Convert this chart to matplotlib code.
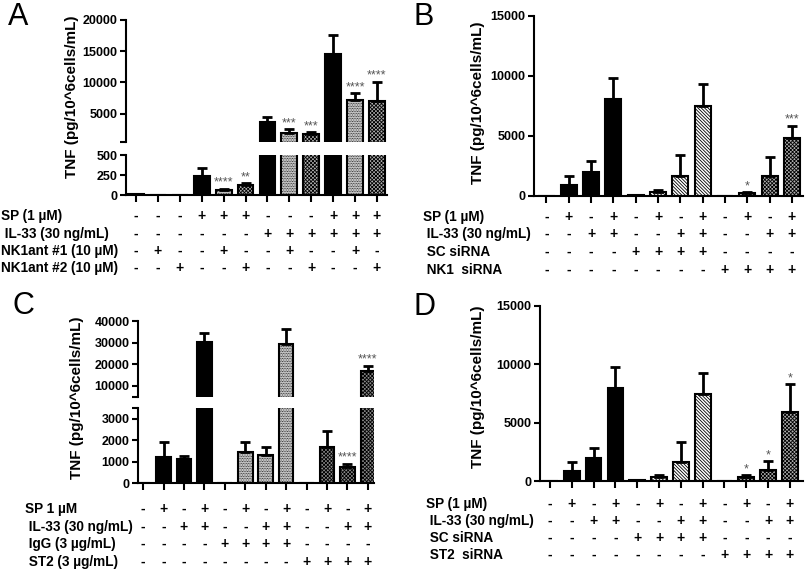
import numpy as np
import matplotlib.pyplot as plt
from matplotlib.transforms import blended_transform_factory

plt.rcParams['font.family'] = ['Liberation Sans', 'DejaVu Sans']
plt.rcParams['font.weight'] = 'bold'
plt.rcParams['hatch.linewidth'] = 0.6

# ---------- data ----------
# panel A
A_vals = [10, 0, 0, 240, 60, 125, 3600, 1900, 1750, 14500, 7200, 7000]
A_sem = [5, 0, 0, 100, 20, 25, 900, 550, 250, 3100, 1100, 3100]
A_stars = ['', '', '', '', '****', '**', '', '***', '***', '', '****', '****']
A_rows = ['SP (1 µM)', ' IL-33 (30 ng/mL)', 'NK1ant #1 (10 µM)', 'NK1ant #2 (10 µM)']
A_signs = ['---+++---+++',
           '------++++++',
           '-+--+--+--+-',
           '--+--+--+--+']

# panel B
B_vals = [0, 920, 2030, 8060, 60, 360, 1670, 7500, 0, 220, 1690, 4800]
B_sem = [0, 770, 910, 1740, 20, 140, 1750, 1800, 0, 80, 1590, 1060]
B_stars = ['', '', '', '', '', '', '', '', '', '*', '', '***']
B_rows = ['SP (1 µM)', ' IL-33 (30 ng/mL)', ' SC siRNA', ' NK1  siRNA']
B_signs = ['-+-+-+-+-+-+',
           '--++--++--++',
           '----++++----',
           '--------++++']

# panel C
C_vals = [0, 1220, 1125, 30300, 0, 1450, 1300, 29500, 0, 1690, 730, 17100]
C_sem = [0, 700, 125, 4300, 0, 470, 390, 6900, 0, 730, 170, 2300]
C_stars = ['', '', '', '', '', '', '', '', '', '', '****', '****']
C_rows = ['SP 1 µM', ' IL-33 (30 ng/mL)', ' IgG (3 µg/mL)', ' ST2 (3 µg/mL)']
C_signs = ['-+-+-+-+-+-+',
           '--++--++--++',
           '----++++----',
           '--------++++']

# panel D
D_vals = [0, 860, 1975, 8010, 60, 340, 1630, 7500, 0, 340, 915, 5925]
D_sem = [0, 770, 885, 1780, 20, 150, 1720, 1770, 0, 150, 775, 2375]
D_stars = ['', '', '', '', '', '', '', '', '', '*', '*', '*']
D_rows = ['SP (1 µM)', ' IL-33 (30 ng/mL)', ' SC siRNA', ' ST2  siRNA']
D_signs = ['-+-+-+-+-+-+',
           '--++--++--++',
           '----++++----',
           '--------++++']

ylabel = 'TNF (pg/10^6cells/mL)'

STYLES = {
    'black': dict(color='black', hatch=None),
    'dot': dict(color='#f2f2f2', hatch='..........'),
    'diag': dict(color='white', hatch='\\' * 10),
    'cross': dict(color='#b0b0b0', hatch='x' * 9),
    'crossdark': dict(color='#8a8a8a', hatch='x' * 9),
}
A_fill = ['black', 'dot', 'cross'] * 4
B_fill = ['black'] * 4 + ['diag'] * 4 + ['cross'] * 4
C_fill = ['black'] * 4 + ['dot'] * 4 + ['crossdark'] * 4
D_fill = B_fill

W, H = 805, 570
fig = plt.figure(figsize=(W / 100, H / 100), dpi=100)
all_axes = []


def px_axes(x0, x1, y0, y1):
    # pixel box (top-left origin) -> figure axes
    ax = fig.add_axes([x0 / W, 1 - y1 / H, (x1 - x0) / W, (y1 - y0) / H])
    all_axes.append(ax)
    return ax


def style_axis(ax):
    for s in ['top', 'right']:
        ax.spines[s].set_visible(False)
    for s in ['left', 'bottom']:
        ax.spines[s].set_linewidth(1.5)
    ax.tick_params(axis='y', direction='out', length=4, width=1.5, labelsize=9, pad=2)
    ax.tick_params(axis='x', direction='out', length=5, width=1.5, labelbottom=False)


def draw_bars(axes, vals, sem, fills, stars):
    x = np.arange(len(vals))
    vals = np.array(vals)
    tops = vals + np.array(sem)
    for ax in axes:
        lo, hi = ax.get_ylim()
        for i in x:
            if lo > 0 and vals[i] <= lo:
                continue  # bar lives only in the lower segment
            st = STYLES[fills[i]]
            ax.bar(i, vals[i], width=0.72, color=st['color'], hatch=st['hatch'],
                   edgecolor='black', linewidth=1.5, zorder=2)
        keep = tops > lo
        ax.errorbar(x[keep], vals[keep],
                    yerr=[np.zeros(keep.sum()), np.array(sem)[keep]], fmt='none',
                    ecolor='black', elinewidth=2, capsize=3.5, capthick=2, zorder=3)
    # significance stars on the segment that holds the error bar top
    for i, s in enumerate(stars):
        if not s:
            continue
        for ax in axes:
            lo, hi = ax.get_ylim()
            if lo <= tops[i] <= hi:
                ax.annotate(s, (i, tops[i]), xytext=(0, 0), textcoords='offset points',
                            ha='center', va='bottom', fontsize=9, color='#555555',
                            fontweight='normal')
                break


def draw_table(ax, rows, signs, row_y, label_x):
    tr = blended_transform_factory(ax.transData, fig.transFigure)
    for name, sg, y in zip(rows, signs, row_y):
        fig.text(label_x / W, 1 - y / H, name, ha='left', va='center', fontsize=9.8,
                 fontweight='bold')
        for i, c in enumerate(sg):
            ax.text(i, 1 - y / H, c, transform=tr, ha='center', va='center',
                    fontsize=10, fontweight='bold')


# ---------- panel A (broken axis) ----------
axA_up = px_axes(126, 387, 20, 142)
axA_lo = px_axes(126, 387, 155, 195)
for ax in (axA_up, axA_lo):
    ax.set_xlim(-0.46, 11.46)
axA_up.set_ylim(430, 20000)
axA_lo.set_ylim(0, 500)
draw_bars([axA_up, axA_lo], A_vals, A_sem, A_fill, A_stars)
axA_up.set_yticks([430, 5000, 10000, 15000, 20000])
axA_up.set_yticklabels(['', '5000', '10000', '15000', '20000'])
axA_lo.set_yticks([0, 250, 500])
axA_lo.set_xticks(range(12))
style_axis(axA_up)
style_axis(axA_lo)
axA_up.spines['bottom'].set_visible(False)
axA_up.tick_params(axis='x', bottom=False)
fig.text(72 / W, 1 - 97 / H, ylabel, rotation=90, ha='center', va='center', fontsize=11)
draw_table(axA_lo, A_rows, A_signs, [216, 234, 251, 268], 1)
fig.text(8 / W, 1 - 2 / H, 'A', fontsize=22, fontweight='normal', va='top')

# ---------- panel B ----------
axB = px_axes(534, 803, 16, 196)
axB.set_xlim(-0.56, 11.5)
axB.set_ylim(0, 15000)
draw_bars([axB], B_vals, B_sem, B_fill, B_stars)
axB.set_yticks([0, 5000, 10000, 15000])
axB.set_xticks(range(12))
style_axis(axB)
fig.text(478 / W, 1 - 103 / H, ylabel, rotation=90, ha='center', va='center', fontsize=11)
draw_table(axB, B_rows, B_signs, [217, 234, 252, 270], 423)
fig.text(414 / W, 1 - 2 / H, 'B', fontsize=22, fontweight='normal', va='top')

# ---------- panel C (broken axis) ----------
axC_up = px_axes(138, 374, 321, 397)
axC_lo = px_axes(138, 374, 408, 483)
for ax in (axC_up, axC_lo):
    ax.set_xlim(-0.25, 11.3)
axC_up.set_ylim(4900, 40000)
axC_lo.set_ylim(0, 3500)
draw_bars([axC_up, axC_lo], C_vals, C_sem, C_fill, C_stars)
axC_up.set_yticks([4900, 10000, 20000, 30000, 40000])
axC_up.set_yticklabels(['', '10000', '20000', '30000', '40000'])
axC_lo.set_yticks([0, 1000, 2000, 3000, 3500])
axC_lo.set_yticklabels(['0', '1000', '2000', '3000', ''])
axC_lo.set_xticks(range(12))
style_axis(axC_up)
style_axis(axC_lo)
axC_up.spines['bottom'].set_visible(False)
axC_up.tick_params(axis='x', bottom=False)
fig.text(77 / W, 1 - 398 / H, ylabel, rotation=90, ha='center', va='center', fontsize=11)
draw_table(axC_lo, C_rows, C_signs, [509, 527, 544, 562], 25)
fig.text(12 / W, 1 - 291 / H, 'C', fontsize=22, fontweight='normal', va='top')

# ---------- panel D ----------
axD = px_axes(540, 803, 306, 481)
axD.set_xlim(-0.46, 11.6)
axD.set_ylim(0, 15000)
draw_bars([axD], D_vals, D_sem, D_fill, D_stars)
axD.set_yticks([0, 5000, 10000, 15000])
axD.set_xticks(range(12))
style_axis(axD)
fig.text(478 / W, 1 - 387 / H, ylabel, rotation=90, ha='center', va='center', fontsize=11)
draw_table(axD, D_rows, D_signs, [504, 521, 538, 555], 426)
fig.text(414 / W, 1 - 292 / H, 'D', fontsize=22, fontweight='normal', va='top')

# tick labels in bold like the rest of the figure
fig.canvas.draw()
for ax in all_axes:
    plt.setp(ax.get_yticklabels(), fontweight='bold')

fig.savefig('out.png', dpi=100)
